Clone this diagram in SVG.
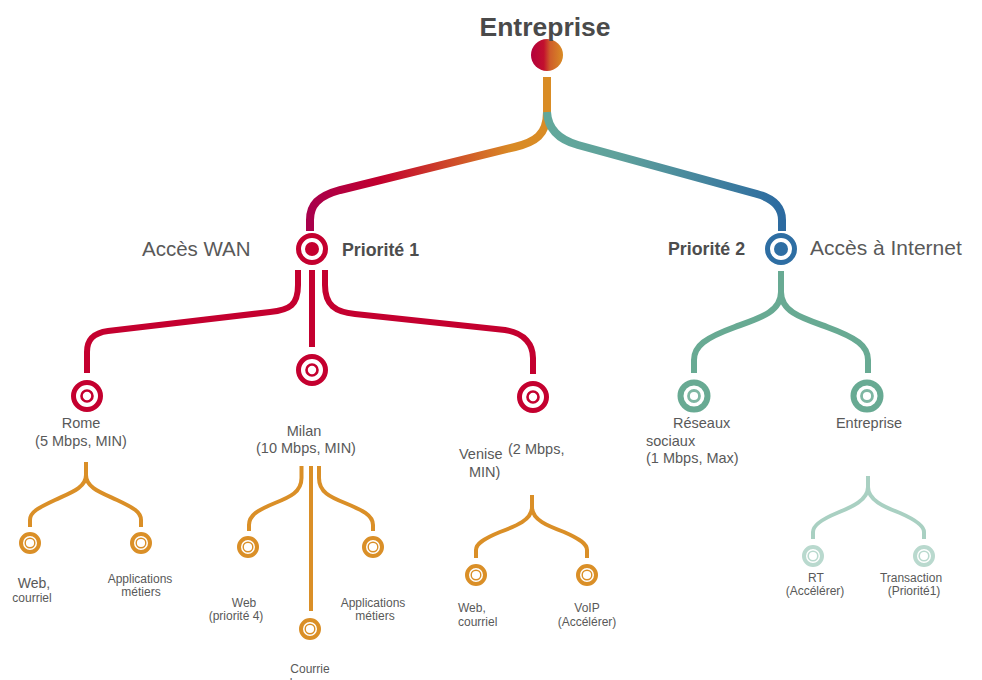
<svg xmlns="http://www.w3.org/2000/svg" width="982" height="680" viewBox="0 0 982 680">
  <defs>
    <linearGradient id="rootFill" x1="0" y1="0" x2="1" y2="0">
      <stop offset="0" stop-color="#b3003c"/>
      <stop offset="0.4" stop-color="#c2102e"/>
      <stop offset="0.6" stop-color="#cf5e2a"/>
      <stop offset="1" stop-color="#d98c25"/>
    </linearGradient>
    <linearGradient id="wanLink" gradientUnits="userSpaceOnUse" x1="309" y1="0" x2="547" y2="0">
      <stop offset="0" stop-color="#a8004c"/>
      <stop offset="0.3" stop-color="#c2002e"/>
      <stop offset="0.85" stop-color="#d98a25"/>
      <stop offset="1" stop-color="#d98c25"/>
    </linearGradient>
    <linearGradient id="netLink" gradientUnits="userSpaceOnUse" x1="547" y1="0" x2="783" y2="0">
      <stop offset="0" stop-color="#62a89b"/>
      <stop offset="0.3" stop-color="#5fa19b"/>
      <stop offset="1" stop-color="#2c6aa0"/>
    </linearGradient>
  </defs>
  <style>
    .lbl { font-family: "Liberation Sans", Arial, sans-serif; fill: #595959; }
    .big { font-size: 20.5px; }
    .bold { font-weight: bold; fill: #4d4d4d; font-size: 17.8px; }
    .mid { font-size: 14.5px; }
    .sm { font-size: 12px; }
    .red { stroke: #c4002f; fill: none; stroke-width: 6; }
    .teal { stroke: #68aa93; fill: none; stroke-width: 6; }
    .org { stroke: #da8f27; fill: none; stroke-width: 4; }
    .pale { stroke: #a9d0c2; fill: none; stroke-width: 4; }
    .ring { fill: none; stroke-width: 5; }
    .sring { fill: none; stroke-width: 4; }
  </style>

  <!-- connectors -->
  <g id="connectors" fill="none" stroke-linecap="butt">
    <path d="M547,77 V112 C547,135 535,142 515,147 L340,190 C318,196 310,205 310,220 V231" stroke="url(#wanLink)" stroke-width="8"/>
    <path d="M547,112 C548,130 560,140 578,145 L757,194 C775,199 782,208 782,220 V231" stroke="url(#netLink)" stroke-width="8"/>

    <path class="red" d="M298,270 V285 C298,305 290,310 270,312 L108,331 C93,333 87,340 87,352 V373"/>
    <path class="red" d="M312,270 V347"/>
    <path class="red" d="M325,270 V285 C325,305 335,312 355,314 L505,330 C525,333 533,345 533,358 V374"/>

    <path class="teal" d="M781,271 V292 C781,312 760,318 735,327 C705,338 694,346 694,360 V373"/>
    <path class="teal" d="M781,292 C781,312 802,318 827,327 C857,338 868,346 868,360 V373"/>

    <path class="org" d="M86,462 V475 C86,488 70,493 55,500 C38,508 30,512 30,520 V527"/>
    <path class="org" d="M86,475 C86,488 102,493 117,500 C134,508 141,512 141,520 V527"/>

    <path class="org" d="M301.5,466 V478 C301.5,492 290,497 275,503 C258,510 249,515 249,525 V531"/>
    <path class="org" d="M311,466 V611"/>
    <path class="org" d="M319,466 V478 C319,492 330,497 345,503 C362,510 373,515 373,525 V531"/>

    <path class="org" d="M532,495 V507 C532,520 516,526 500,532 C483,539 476,544 476,550 V558"/>
    <path class="org" d="M532,507 C532,520 548,526 564,532 C580,539 587,544 587,550 V558"/>

    <path class="pale" d="M868,476 V487 C868,500 852,507 837,513 C820,520 813,526 813,532 V539"/>
    <path class="pale" d="M868,487 C868,500 884,507 900,513 C916,520 924,526 924,532 V539"/>
  </g>

  <!-- root -->
  <g id="root">
    <circle cx="547" cy="55" r="16" fill="url(#rootFill)"/>
    <text class="lbl" x="545" y="36" text-anchor="middle" style="font-size:26.5px;font-weight:bold;fill:#4a4a4a">Entreprise</text>
  </g>

  <!-- priority 1: WAN -->
  <g id="wan">
    <circle class="ring" cx="312" cy="249" r="13.5" stroke="#c4002f"/>
    <circle cx="312" cy="249" r="7" fill="#c4002f"/>
    <text class="lbl big" x="142" y="256">Accès WAN</text>
    <text class="lbl bold" x="342" y="256">Priorité 1</text>
  </g>

  <!-- priority 2: Internet -->
  <g id="internet">
    <circle class="ring" cx="781" cy="249" r="13.5" stroke="#2e6ea3"/>
    <circle cx="781" cy="249" r="7" fill="#2e6ea3"/>
    <text class="lbl bold" x="668" y="255">Priorité 2</text>
    <text class="lbl big" x="810" y="255" style="font-size:21px">Accès à Internet</text>
  </g>

  <!-- WAN sites -->
  <g id="rome">
    <circle class="ring" cx="87" cy="396" r="13.5" stroke="#c4002f"/>
    <circle cx="87" cy="396" r="5.5" fill="none" stroke="#c4002f" stroke-width="2.6"/>
    <text class="lbl mid" x="81" y="428" text-anchor="middle">Rome</text>
    <text class="lbl mid" x="81" y="446" text-anchor="middle">(5 Mbps, MIN)</text>
  </g>
  <g id="milan">
    <circle class="ring" cx="312" cy="370" r="13.5" stroke="#c4002f"/>
    <circle cx="312" cy="370" r="5.5" fill="none" stroke="#c4002f" stroke-width="2.6"/>
    <text class="lbl mid" x="304" y="436" text-anchor="middle">Milan</text>
    <text class="lbl mid" x="306" y="453" text-anchor="middle">(10 Mbps, MIN)</text>
  </g>
  <g id="venise">
    <circle class="ring" cx="533" cy="397" r="13.5" stroke="#c4002f"/>
    <circle cx="533" cy="397" r="5.5" fill="none" stroke="#c4002f" stroke-width="2.6"/>
    <text class="lbl mid" x="459" y="459">Venise</text>
    <text class="lbl mid" x="508" y="454">(2 Mbps,</text>
    <text class="lbl mid" x="469" y="477">MIN)</text>
  </g>

  <!-- Internet destinations -->
  <g id="reseaux">
    <circle class="ring" cx="694" cy="396" r="13.5" stroke="#68aa93" style="stroke-width:6"/>
    <circle cx="694" cy="396" r="5.5" fill="none" stroke="#7fb7a3" stroke-width="2.8"/>
    <text class="lbl mid" x="673" y="428">Réseaux</text>
    <text class="lbl mid" x="646" y="446">sociaux</text>
    <text class="lbl mid" x="646" y="463">(1 Mbps, Max)</text>
  </g>
  <g id="entreprise">
    <circle class="ring" cx="867" cy="396" r="13.5" stroke="#68aa93" style="stroke-width:6"/>
    <circle cx="867" cy="396" r="5.5" fill="none" stroke="#7fb7a3" stroke-width="2.8"/>
    <text class="lbl mid" x="869" y="428" text-anchor="middle">Entreprise</text>
  </g>

  <!-- Rome applications -->
  <g id="rome-web">
    <circle class="sring" cx="30" cy="543" r="9" stroke="#da8f27"/>
    <circle cx="30" cy="543" r="4.8" fill="none" stroke="#da8f27" stroke-width="1.4"/>
    <text class="lbl" x="34" y="588" text-anchor="middle" style="font-size:14px">Web,</text>
    <text class="lbl sm" x="32" y="602" text-anchor="middle">courriel</text>
  </g>
  <g id="rome-apps">
    <circle class="sring" cx="141" cy="543" r="9" stroke="#da8f27"/>
    <circle cx="141" cy="543" r="4.8" fill="none" stroke="#da8f27" stroke-width="1.4"/>
    <text class="lbl sm" x="140" y="583" text-anchor="middle">Applications</text>
    <text class="lbl sm" x="141" y="596" text-anchor="middle">métiers</text>
  </g>

  <!-- Milan applications -->
  <g id="milan-web">
    <circle class="sring" cx="248" cy="547" r="9" stroke="#da8f27"/>
    <circle cx="248" cy="547" r="4.8" fill="none" stroke="#da8f27" stroke-width="1.4"/>
    <text class="lbl sm" x="244" y="607" text-anchor="middle">Web</text>
    <text class="lbl sm" x="236" y="620" text-anchor="middle">(priorité 4)</text>
  </g>
  <g id="milan-mail">
    <circle class="sring" cx="310" cy="629" r="9" stroke="#da8f27"/>
    <circle cx="310" cy="629" r="4.8" fill="none" stroke="#da8f27" stroke-width="1.4"/>
    <text class="lbl sm" x="310" y="673" text-anchor="middle">Courrie</text>
    <text class="lbl sm" x="291" y="687" text-anchor="middle">l</text>
  </g>
  <g id="milan-apps">
    <circle class="sring" cx="373" cy="547" r="9" stroke="#da8f27"/>
    <circle cx="373" cy="547" r="4.8" fill="none" stroke="#da8f27" stroke-width="1.4"/>
    <text class="lbl sm" x="373" y="607" text-anchor="middle">Applications</text>
    <text class="lbl sm" x="375" y="620" text-anchor="middle">métiers</text>
  </g>

  <!-- Venise applications -->
  <g id="venise-web">
    <circle class="sring" cx="476" cy="575" r="9" stroke="#da8f27"/>
    <circle cx="476" cy="575" r="4.8" fill="none" stroke="#da8f27" stroke-width="1.4"/>
    <text class="lbl sm" x="458" y="612">Web,</text>
    <text class="lbl sm" x="458" y="626">courriel</text>
  </g>
  <g id="venise-voip">
    <circle class="sring" cx="587" cy="575" r="9" stroke="#da8f27"/>
    <circle cx="587" cy="575" r="4.8" fill="none" stroke="#da8f27" stroke-width="1.4"/>
    <text class="lbl sm" x="587" y="612" text-anchor="middle">VoIP</text>
    <text class="lbl sm" x="587" y="626" text-anchor="middle">(Accélérer)</text>
  </g>

  <!-- Entreprise traffic classes -->
  <g id="rt">
    <circle class="sring" cx="813" cy="556" r="9" stroke="#b9d9ce"/>
    <circle cx="813" cy="556" r="4.8" fill="none" stroke="#b9d9ce" stroke-width="1.6"/>
    <text class="lbl sm" x="816" y="582" text-anchor="middle">RT</text>
    <text class="lbl sm" x="815" y="595" text-anchor="middle">(Accélérer)</text>
  </g>
  <g id="transaction">
    <circle class="sring" cx="924" cy="556" r="9" stroke="#b9d9ce"/>
    <circle cx="924" cy="556" r="4.8" fill="none" stroke="#b9d9ce" stroke-width="1.6"/>
    <text class="lbl sm" x="911" y="582" text-anchor="middle">Transaction</text>
    <text class="lbl sm" x="914" y="595" text-anchor="middle">(Priorité1)</text>
  </g>
</svg>
